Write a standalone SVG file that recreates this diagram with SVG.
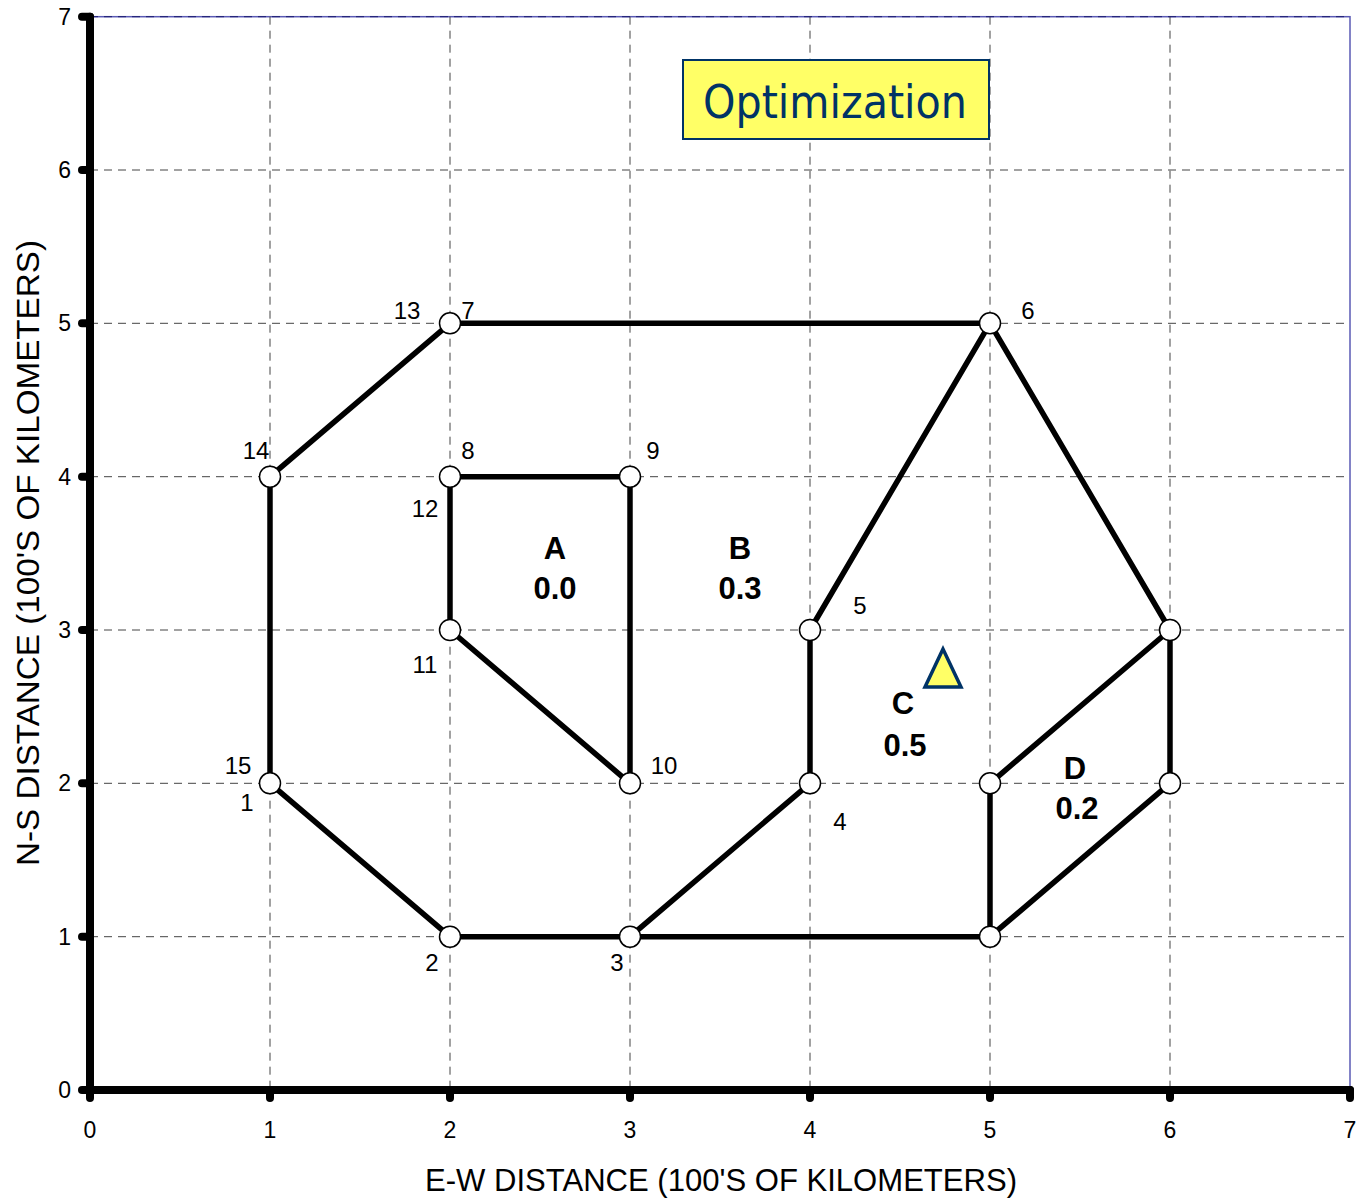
<svg xmlns="http://www.w3.org/2000/svg" width="1360" height="1200" viewBox="0 0 1360 1200">
<style>
.grid{stroke:#444;stroke-width:1;stroke-dasharray:8 6;fill:none}
.edge{stroke:#000;stroke-width:5.5;stroke-linecap:round;fill:none}
.axis{stroke:#000;stroke-width:8;stroke-linecap:round;fill:none}
.tick{stroke:#000;stroke-width:8;stroke-linecap:round}
.node{fill:#fff;stroke:#000;stroke-width:1.5}
.num{font-family:"Liberation Sans",Arial,sans-serif;font-size:23px;fill:#000}
.nl{font-family:"Liberation Sans",Arial,sans-serif;font-size:24px;fill:#000;text-anchor:middle}
.rl{font-family:"Liberation Sans",Arial,sans-serif;font-size:31px;font-weight:bold;fill:#000;text-anchor:middle}
.title{font-family:"Liberation Sans",Arial,sans-serif;font-size:31px;fill:#000;text-anchor:middle}
</style>
<rect width="1360" height="1200" fill="#fff"/>
<g id="plot-frame">
<rect x="90" y="16.7" width="1260" height="1073.3" fill="none" stroke="#5a5ab4" stroke-width="1.5"/>
</g>
<g id="grid">
<line class="grid" x1="270" y1="16.7" x2="270" y2="1090"/>
<line class="grid" x1="450" y1="16.7" x2="450" y2="1090"/>
<line class="grid" x1="630" y1="16.7" x2="630" y2="1090"/>
<line class="grid" x1="810" y1="16.7" x2="810" y2="1090"/>
<line class="grid" x1="990" y1="16.7" x2="990" y2="1090"/>
<line class="grid" x1="1170" y1="16.7" x2="1170" y2="1090"/>
<line class="grid" x1="90" y1="16.7" x2="1350" y2="16.7" style="stroke:#1a1a6e"/>
<line class="grid" x1="90" y1="170" x2="1350" y2="170"/>
<line class="grid" x1="90" y1="323.3" x2="1350" y2="323.3"/>
<line class="grid" x1="90" y1="476.7" x2="1350" y2="476.7"/>
<line class="grid" x1="90" y1="630" x2="1350" y2="630"/>
<line class="grid" x1="90" y1="783.3" x2="1350" y2="783.3"/>
<line class="grid" x1="90" y1="936.7" x2="1350" y2="936.7"/>
</g>
<g id="axes">
<line class="axis" x1="90" y1="16.7" x2="90" y2="1090"/>
<line class="axis" x1="90" y1="1090" x2="1350" y2="1090"/>
<line class="tick" x1="82" y1="16.7" x2="90" y2="16.7"/>
<line class="tick" x1="82" y1="170" x2="90" y2="170"/>
<line class="tick" x1="82" y1="323.3" x2="90" y2="323.3"/>
<line class="tick" x1="82" y1="476.7" x2="90" y2="476.7"/>
<line class="tick" x1="82" y1="630" x2="90" y2="630"/>
<line class="tick" x1="82" y1="783.3" x2="90" y2="783.3"/>
<line class="tick" x1="82" y1="936.7" x2="90" y2="936.7"/>
<line class="tick" x1="82" y1="1090" x2="90" y2="1090"/>
<line class="tick" x1="90" y1="1090" x2="90" y2="1098"/>
<line class="tick" x1="270" y1="1090" x2="270" y2="1098"/>
<line class="tick" x1="450" y1="1090" x2="450" y2="1098"/>
<line class="tick" x1="630" y1="1090" x2="630" y2="1098"/>
<line class="tick" x1="810" y1="1090" x2="810" y2="1098"/>
<line class="tick" x1="990" y1="1090" x2="990" y2="1098"/>
<line class="tick" x1="1170" y1="1090" x2="1170" y2="1098"/>
<line class="tick" x1="1350" y1="1090" x2="1350" y2="1098"/>
<g class="num" text-anchor="end">
<text x="71" y="25">7</text>
<text x="71" y="178">6</text>
<text x="71" y="331">5</text>
<text x="71" y="485">4</text>
<text x="71" y="638">3</text>
<text x="71" y="791">2</text>
<text x="71" y="945">1</text>
<text x="71" y="1098">0</text>
</g>
<g class="num" text-anchor="middle">
<text x="90" y="1138">0</text>
<text x="270" y="1138">1</text>
<text x="450" y="1138">2</text>
<text x="630" y="1138">3</text>
<text x="810" y="1138">4</text>
<text x="990" y="1138">5</text>
<text x="1170" y="1138">6</text>
<text x="1350" y="1138">7</text>
</g>
<text class="title" x="721" y="1191" textLength="592" lengthAdjust="spacingAndGlyphs">E-W DISTANCE (100'S OF KILOMETERS)</text>
<text class="title" x="0" y="0" transform="translate(39,553) rotate(-90)" textLength="626" lengthAdjust="spacingAndGlyphs">N-S DISTANCE (100'S OF KILOMETERS)</text>
</g>
<g id="connectors">
<line class="edge" x1="270" y1="783.3" x2="270" y2="476.7"/>
<line class="edge" x1="270" y1="476.7" x2="450" y2="323.3"/>
<line class="edge" x1="450" y1="323.3" x2="990" y2="323.3"/>
<line class="edge" x1="990" y1="323.3" x2="810" y2="630"/>
<line class="edge" x1="810" y1="630" x2="810" y2="783.3"/>
<line class="edge" x1="810" y1="783.3" x2="630" y2="936.7"/>
<line class="edge" x1="450" y1="936.7" x2="990" y2="936.7"/>
<line class="edge" x1="270" y1="783.3" x2="450" y2="936.7"/>
<line class="edge" x1="990" y1="323.3" x2="1170" y2="630"/>
<line class="edge" x1="1170" y1="630" x2="1170" y2="783.3"/>
<line class="edge" x1="1170" y1="630" x2="990" y2="783.3"/>
<line class="edge" x1="990" y1="783.3" x2="990" y2="936.7"/>
<line class="edge" x1="990" y1="936.7" x2="1170" y2="783.3"/>
<line class="edge" x1="450" y1="476.7" x2="630" y2="476.7"/>
<line class="edge" x1="630" y1="476.7" x2="630" y2="783.3"/>
<line class="edge" x1="630" y1="783.3" x2="450" y2="630"/>
<line class="edge" x1="450" y1="630" x2="450" y2="476.7"/>
</g>
<g id="node-1-15"><circle class="node" cx="270" cy="783.3" r="10.5"/><text class="nl" x="238" y="774">15</text><text class="nl" x="247" y="811">1</text></g>
<g id="node-2"><circle class="node" cx="450" cy="936.7" r="10.5"/><text class="nl" x="432" y="971">2</text></g>
<g id="node-3"><circle class="node" cx="630" cy="936.7" r="10.5"/><text class="nl" x="617" y="971">3</text></g>
<g id="node-4"><circle class="node" cx="810" cy="783.3" r="10.5"/><text class="nl" x="840" y="830">4</text></g>
<g id="node-5"><circle class="node" cx="810" cy="630" r="10.5"/><text class="nl" x="860" y="614">5</text></g>
<g id="node-6"><circle class="node" cx="990" cy="323.3" r="10.5"/><text class="nl" x="1028" y="319">6</text></g>
<g id="node-7-13"><circle class="node" cx="450" cy="323.3" r="10.5"/><text class="nl" x="407" y="319">13</text><text class="nl" x="468" y="319">7</text></g>
<g id="node-8-12"><circle class="node" cx="450" cy="476.7" r="10.5"/><text class="nl" x="468" y="459">8</text><text class="nl" x="425" y="517">12</text></g>
<g id="node-9"><circle class="node" cx="630" cy="476.7" r="10.5"/><text class="nl" x="653" y="459">9</text></g>
<g id="node-10"><circle class="node" cx="630" cy="783.3" r="10.5"/><text class="nl" x="664" y="774">10</text></g>
<g id="node-11"><circle class="node" cx="450" cy="630" r="10.5"/><text class="nl" x="425" y="673">11</text></g>
<g id="node-14"><circle class="node" cx="270" cy="476.7" r="10.5"/><text class="nl" x="256" y="459">14</text></g>
<g id="node-6-3"><circle class="node" cx="1170" cy="630" r="10.5"/></g>
<g id="node-6-2"><circle class="node" cx="1170" cy="783.3" r="10.5"/></g>
<g id="node-5-2"><circle class="node" cx="990" cy="783.3" r="10.5"/></g>
<g id="node-5-1"><circle class="node" cx="990" cy="936.7" r="10.5"/></g>
<g id="region-A"><text class="rl" x="555" y="559">A</text><text class="rl" x="555" y="599">0.0</text></g>
<g id="region-B"><text class="rl" x="740" y="559">B</text><text class="rl" x="740" y="599">0.3</text></g>
<g id="region-C"><text class="rl" x="903" y="714">C</text><text class="rl" x="905" y="756">0.5</text></g>
<g id="region-D"><text class="rl" x="1075" y="779">D</text><text class="rl" x="1077" y="819">0.2</text></g>
<g id="optimum"><polygon points="943,649 925,687 961,687" fill="#ffff66" stroke="#003366" stroke-width="3.5" stroke-linejoin="miter"/></g>
<g id="title-box">
<rect x="683" y="60" width="306" height="79" fill="#ffff66" stroke="#003366" stroke-width="2"/>
<text x="835" y="118" font-family="'DejaVu Sans Condensed','DejaVu Sans',sans-serif" font-size="47" fill="#003366" text-anchor="middle" textLength="264" lengthAdjust="spacingAndGlyphs">Optimization</text>
</g>
</svg>
